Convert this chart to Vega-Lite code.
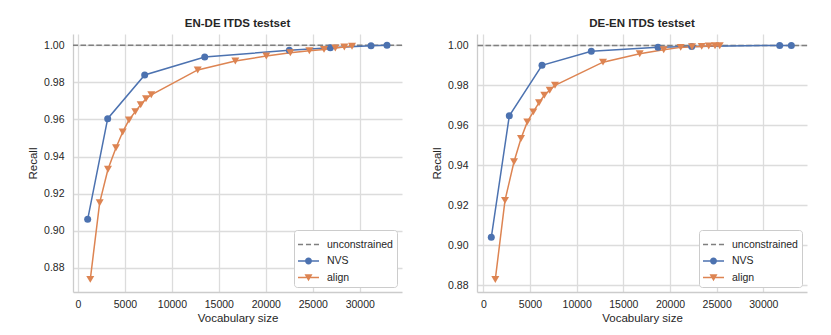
{
  "$schema": "https://vega.github.io/schema/vega-lite/v6.json",
  "background": "white",
  "padding": {"left": 27, "top": 17, "right": 0, "bottom": 0},
  "config": {
    "font": "Liberation Sans",
    "view": {"stroke": null},
    "axis": {
      "labelFont": "Liberation Sans", "labelFontSize": 10.5, "labelColor": "#262626",
      "titleFont": "Liberation Sans", "titleFontSize": 11.5, "titleColor": "#262626", "titleFontWeight": "normal",
      "gridColor": "#dcdcdc", "gridWidth": 1.3, "domainColor": "#cccccc", "domainWidth": 1.3,
      "ticks": false
    },
    "axisX": {"labelPadding": 7, "titlePadding": 3},
    "axisY": {"labelPadding": 9, "titlePadding": 5},
    "title": {"font": "Liberation Sans", "fontSize": 11.5, "fontWeight": "bold", "color": "#262626", "offset": 5},
    "legend": {
      "labelFont": "Liberation Sans", "labelFontSize": 10.5, "labelColor": "#262626"
    }
  },
  "datasets": {
    "d": [
      {"panel": "EN-DE", "series": "unconstrained", "vocab": null, "recall": 1.0},
      {"panel": "EN-DE", "series": "NVS", "vocab": 1033, "recall": 0.9061},
      {"panel": "EN-DE", "series": "NVS", "vocab": 3163, "recall": 0.9604},
      {"panel": "EN-DE", "series": "NVS", "vocab": 7103, "recall": 0.984},
      {"panel": "EN-DE", "series": "NVS", "vocab": 13493, "recall": 0.9937},
      {"panel": "EN-DE", "series": "NVS", "vocab": 22503, "recall": 0.9973},
      {"panel": "EN-DE", "series": "NVS", "vocab": 26870, "recall": 0.9987},
      {"panel": "EN-DE", "series": "NVS", "vocab": 31200, "recall": 0.9998},
      {"panel": "EN-DE", "series": "NVS", "vocab": 32900, "recall": 1.0},
      {"panel": "EN-DE", "series": "align", "vocab": 1310, "recall": 0.8737},
      {"panel": "EN-DE", "series": "align", "vocab": 2311, "recall": 0.9151},
      {"panel": "EN-DE", "series": "align", "vocab": 3195, "recall": 0.9331},
      {"panel": "EN-DE", "series": "align", "vocab": 4047, "recall": 0.9447},
      {"panel": "EN-DE", "series": "align", "vocab": 4760, "recall": 0.9532},
      {"panel": "EN-DE", "series": "align", "vocab": 5431, "recall": 0.9597},
      {"panel": "EN-DE", "series": "align", "vocab": 6102, "recall": 0.9642},
      {"panel": "EN-DE", "series": "align", "vocab": 6677, "recall": 0.9679},
      {"panel": "EN-DE", "series": "align", "vocab": 7242, "recall": 0.9712},
      {"panel": "EN-DE", "series": "align", "vocab": 7806, "recall": 0.9733},
      {"panel": "EN-DE", "series": "align", "vocab": 12748, "recall": 0.9867},
      {"panel": "EN-DE", "series": "align", "vocab": 16752, "recall": 0.9915},
      {"panel": "EN-DE", "series": "align", "vocab": 20053, "recall": 0.9942},
      {"panel": "EN-DE", "series": "align", "vocab": 22609, "recall": 0.996},
      {"panel": "EN-DE", "series": "align", "vocab": 24633, "recall": 0.9971},
      {"panel": "EN-DE", "series": "align", "vocab": 26198, "recall": 0.9978},
      {"panel": "EN-DE", "series": "align", "vocab": 27401, "recall": 0.9985},
      {"panel": "EN-DE", "series": "align", "vocab": 28360, "recall": 0.9991},
      {"panel": "EN-DE", "series": "align", "vocab": 29180, "recall": 0.9995},
      {"panel": "DE-EN", "series": "unconstrained", "vocab": null, "recall": 1.0},
      {"panel": "DE-EN", "series": "NVS", "vocab": 857, "recall": 0.9039},
      {"panel": "DE-EN", "series": "NVS", "vocab": 2786, "recall": 0.9647},
      {"panel": "DE-EN", "series": "NVS", "vocab": 6289, "recall": 0.99},
      {"panel": "DE-EN", "series": "NVS", "vocab": 11572, "recall": 0.9971},
      {"panel": "DE-EN", "series": "NVS", "vocab": 18718, "recall": 0.9991},
      {"panel": "DE-EN", "series": "NVS", "vocab": 22325, "recall": 0.9995},
      {"panel": "DE-EN", "series": "NVS", "vocab": 31754, "recall": 1.0},
      {"panel": "DE-EN", "series": "NVS", "vocab": 33000, "recall": 1.0},
      {"panel": "DE-EN", "series": "align", "vocab": 1286, "recall": 0.8828},
      {"panel": "DE-EN", "series": "align", "vocab": 2325, "recall": 0.9224},
      {"panel": "DE-EN", "series": "align", "vocab": 3289, "recall": 0.9417},
      {"panel": "DE-EN", "series": "align", "vocab": 4039, "recall": 0.9534},
      {"panel": "DE-EN", "series": "align", "vocab": 4714, "recall": 0.9617},
      {"panel": "DE-EN", "series": "align", "vocab": 5357, "recall": 0.9667},
      {"panel": "DE-EN", "series": "align", "vocab": 5968, "recall": 0.9713},
      {"panel": "DE-EN", "series": "align", "vocab": 6536, "recall": 0.975},
      {"panel": "DE-EN", "series": "align", "vocab": 7115, "recall": 0.9775},
      {"panel": "DE-EN", "series": "align", "vocab": 7682, "recall": 0.98},
      {"panel": "DE-EN", "series": "align", "vocab": 12825, "recall": 0.9916},
      {"panel": "DE-EN", "series": "align", "vocab": 16757, "recall": 0.9958},
      {"panel": "DE-EN", "series": "align", "vocab": 19329, "recall": 0.9978},
      {"panel": "DE-EN", "series": "align", "vocab": 21150, "recall": 0.999},
      {"panel": "DE-EN", "series": "align", "vocab": 22361, "recall": 0.9993},
      {"panel": "DE-EN", "series": "align", "vocab": 23400, "recall": 0.9995},
      {"panel": "DE-EN", "series": "align", "vocab": 24150, "recall": 0.9997},
      {"panel": "DE-EN", "series": "align", "vocab": 24825, "recall": 0.9998},
      {"panel": "DE-EN", "series": "align", "vocab": 25329, "recall": 0.9998}
    ]
  },
  "data": {"name": "d"},
  "spacing": 28,
  "resolve": {"scale": {"color": "independent"}, "legend": {"color": "independent"}},
  "hconcat": [
    {
      "width": 329, "height": 258,
      "title": "EN-DE ITDS testset",
      "transform": [{"filter": "datum.panel === 'EN-DE'"}],
      "layer": [
        {
          "transform": [{"filter": "datum.series === 'unconstrained'"}],
          "mark": {"type": "rule", "strokeDash": [5.5, 2.4], "strokeWidth": 1.5},
          "encoding": {
            "y": {"field": "recall", "type": "quantitative", "scale": {"domain": [0.8669, 1.0061], "nice": false, "zero": false},
                  "axis": {"values": [0.88, 0.9, 0.92, 0.94, 0.96, 0.98, 1.0], "format": ".2f", "title": "Recall"}},
            "color": {"field": "series", "type": "nominal",
              "scale": {"domain": ["unconstrained", "NVS", "align"], "range": ["#7f7f7f", "#4c72b0", "#dd8452"]},
              "legend": {
                "orient": "bottom-right", "offset": 5, "title": null, "symbolSize": 441,
                "padding": 4, "strokeColor": "#cccccc", "fillColor": "white", "cornerRadius": 3,
                "rowPadding": 0.5, "labelOffset": 8,
                "encode": {"symbols": {"update": {
                  "shape": {"signal": "datum.value === 'NVS' ? 'M-1,-0.07L1,-0.07L1,0.07L-1,0.07Z M0.33,0A0.33,0.33 0 1,1 -0.33,0A0.33,0.33 0 1,1 0.33,0Z' : datum.value === 'align' ? 'M-1,-0.07L1,-0.07L1,0.07L-1,0.07Z M-0.38,-0.3L0.38,-0.3L0,0.36Z' : 'M-1,-0.07L-0.52,-0.07L-0.52,0.07L-1,0.07Z M-0.24,-0.07L0.24,-0.07L0.24,0.07L-0.24,0.07Z M0.52,-0.07L1,-0.07L1,0.07L0.52,0.07Z'"},
                  "fill": {"signal": "datum.value === 'NVS' ? '#4c72b0' : datum.value === 'align' ? '#dd8452' : '#7f7f7f'"},
                  "fillOpacity": {"value": 1},
                  "opacity": {"value": 1},
                  "stroke": {"value": "transparent"},
                  "strokeWidth": {"value": 0}
                }}}
              }}
          }
        },
        {
          "transform": [{"filter": "datum.series !== 'unconstrained'"}],
          "mark": {"type": "line", "strokeWidth": 1.5},
          "encoding": {
            "x": {"field": "vocab", "type": "quantitative", "scale": {"domain": [-530, 34500], "nice": false, "zero": false},
                  "axis": {"values": [0, 5000, 10000, 15000, 20000, 25000, 30000], "format": "d", "title": "Vocabulary size"}},
            "y": {"field": "recall", "type": "quantitative"},
            "color": {"field": "series", "type": "nominal"}
          }
        },
        {
          "transform": [{"filter": "datum.series !== 'unconstrained'"}],
          "mark": {"type": "point", "filled": true, "opacity": 1},
          "encoding": {
            "x": {"field": "vocab", "type": "quantitative"},
            "y": {"field": "recall", "type": "quantitative"},
            "color": {"field": "series", "type": "nominal"},
            "shape": {"field": "series", "type": "nominal", "scale": {"domain": ["NVS", "align"], "range": ["circle", "triangle-down"]}, "legend": null},
            "size": {"field": "series", "type": "nominal", "scale": {"domain": ["NVS", "align"], "range": [49, 64]}, "legend": null}
          }
        }
      ]
    },
    {
      "width": 330, "height": 258,
      "title": "DE-EN ITDS testset",
      "transform": [{"filter": "datum.panel === 'DE-EN'"}],
      "layer": [
        {
          "transform": [{"filter": "datum.series === 'unconstrained'"}],
          "mark": {"type": "rule", "strokeDash": [5.5, 2.4], "strokeWidth": 1.5},
          "encoding": {
            "y": {"field": "recall", "type": "quantitative", "scale": {"domain": [0.8765, 1.0057], "nice": false, "zero": false},
                  "axis": {"values": [0.88, 0.9, 0.92, 0.94, 0.96, 0.98, 1.0], "format": ".2f", "title": "Recall"}},
            "color": {"field": "series", "type": "nominal",
              "scale": {"domain": ["unconstrained", "NVS", "align"], "range": ["#7f7f7f", "#4c72b0", "#dd8452"]},
              "legend": {
                "orient": "bottom-right", "offset": 5, "title": null, "symbolSize": 441,
                "padding": 4, "strokeColor": "#cccccc", "fillColor": "white", "cornerRadius": 3,
                "rowPadding": 0.5, "labelOffset": 8,
                "encode": {"symbols": {"update": {
                  "shape": {"signal": "datum.value === 'NVS' ? 'M-1,-0.07L1,-0.07L1,0.07L-1,0.07Z M0.33,0A0.33,0.33 0 1,1 -0.33,0A0.33,0.33 0 1,1 0.33,0Z' : datum.value === 'align' ? 'M-1,-0.07L1,-0.07L1,0.07L-1,0.07Z M-0.38,-0.3L0.38,-0.3L0,0.36Z' : 'M-1,-0.07L-0.52,-0.07L-0.52,0.07L-1,0.07Z M-0.24,-0.07L0.24,-0.07L0.24,0.07L-0.24,0.07Z M0.52,-0.07L1,-0.07L1,0.07L0.52,0.07Z'"},
                  "fill": {"signal": "datum.value === 'NVS' ? '#4c72b0' : datum.value === 'align' ? '#dd8452' : '#7f7f7f'"},
                  "fillOpacity": {"value": 1},
                  "opacity": {"value": 1},
                  "stroke": {"value": "transparent"},
                  "strokeWidth": {"value": 0}
                }}}
              }}
          }
        },
        {
          "transform": [{"filter": "datum.series !== 'unconstrained'"}],
          "mark": {"type": "line", "strokeWidth": 1.5},
          "encoding": {
            "x": {"field": "vocab", "type": "quantitative", "scale": {"domain": [-675, 34680], "nice": false, "zero": false},
                  "axis": {"values": [0, 5000, 10000, 15000, 20000, 25000, 30000], "format": "d", "title": "Vocabulary size"}},
            "y": {"field": "recall", "type": "quantitative"},
            "color": {"field": "series", "type": "nominal"}
          }
        },
        {
          "transform": [{"filter": "datum.series !== 'unconstrained'"}],
          "mark": {"type": "point", "filled": true, "opacity": 1},
          "encoding": {
            "x": {"field": "vocab", "type": "quantitative"},
            "y": {"field": "recall", "type": "quantitative"},
            "color": {"field": "series", "type": "nominal"},
            "shape": {"field": "series", "type": "nominal", "scale": {"domain": ["NVS", "align"], "range": ["circle", "triangle-down"]}, "legend": null},
            "size": {"field": "series", "type": "nominal", "scale": {"domain": ["NVS", "align"], "range": [49, 64]}, "legend": null}
          }
        }
      ]
    }
  ]
}
